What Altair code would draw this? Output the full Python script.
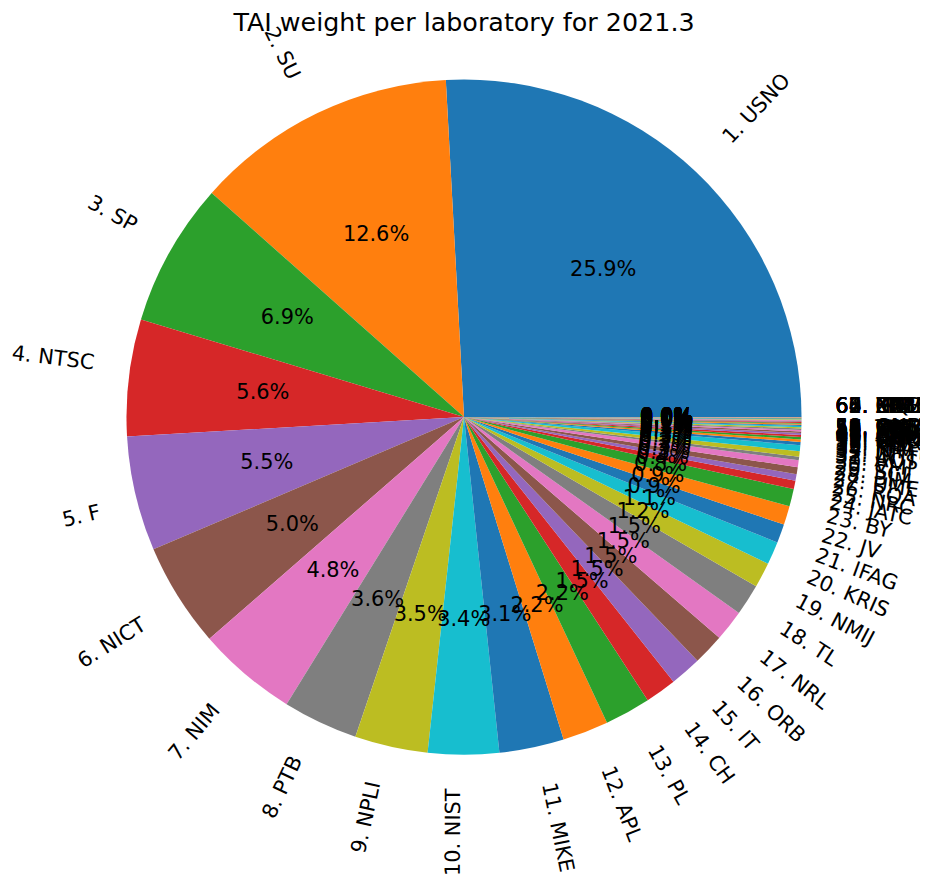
import math
import altair as alt
import pandas as pd

labs = ["USNO", "SU", "SP", "NTSC", "F", "NICT", "NIM", "PTB", "NPLI", "NIST",
        "MIKE", "APL", "PL", "CH", "IT", "ORB", "NRL", "TL", "NMIJ", "KRIS",
        "IFAG", "JV", "BY", "JATC", "NRC", "ROA", "UME", "BIM", "SCL", "VMI",
        "AOS", "INTI", "LT", "NIMT", "TP", "KIM", "MSL", "ONRJ", "SMU", "NAO",
        "DLR", "CNM", "BEV", "NPL", "HKO", "AUS", "ESTC", "IGNA", "KZ", "UA",
        "SG", "INCP", "DMDM", "SIQ", "MKEH", "TCC", "NIS", "GUM", "ONBA", "ZA",
        "CNMP", "IPQ", "INM", "NIMB", "EIM", "MASM", "KEBS", "NMLS"]

weights = [25.9, 12.6, 6.9, 5.6, 5.5, 5.0, 4.8, 3.6, 3.5, 3.4,
           3.1, 2.2, 2.2, 1.5, 1.5, 1.5, 1.5, 1.5, 1.2, 1.1,
           0.9, 0.9, 0.84, 0.40, 0.31, 0.34, 0.33, 0.17, 0.26, 0.29,
           0.15, 0.12, 0.11, 0.10, 0.09, 0.08, 0.07, 0.07, 0.06, 0.06,
           0.05, 0.05, 0.04, 0.04, 0.03, 0.03, 0.03, 0.02, 0.02, 0.02,
           0.02, 0.01, 0.01, 0.01, 0.01, 0.01, 0.005, 0.005, 0.005, 0.0,
           0.0, 0.0, 0.0, 0.0, 0.0, 0.0, 0.0, 0.0]

title_text = ["TAI weight per laboratory for 2021.3"]

tab10 = ["#1f77b4", "#ff7f0e", "#2ca02c", "#d62728", "#9467bd",
         "#8c564b", "#e377c2", "#7f7f7f", "#bcbd22", "#17becf"]

names = [f"{i + 1}. {l}" for i, l in enumerate(labs)]
colors = [tab10[i % 10] for i in range(len(names))]

df = pd.DataFrame({"idx": list(range(1, len(names) + 1)), "name": names, "w": weights})

FONT = "DejaVu Sans"
FS = 21
TH = 20.5  # text box height used for the rotated-bbox alignment
R = 339
W, H = 916, 738

theta_scale = alt.Scale(domain=[0, 1], range=[math.pi / 2, math.pi / 2 - 2 * math.pi])

base = (
    alt.Chart(df)
    .transform_joinaggregate(total="sum(w)")
    .transform_window(cum="sum(w)", sort=[alt.SortField("idx")], frame=[None, 0])
    .transform_calculate(
        start="(datum.cum - datum.w) / datum.total",
        end="datum.cum / datum.total",
        mid="(datum.cum - datum.w / 2) / datum.total",
    )
    .transform_calculate(
        deg="360 * datum.mid",
        right="cos(2 * PI * datum.mid) > 0",
        upper="sin(2 * PI * datum.mid) > 0 || datum.w == 0",
        pct="format(100 * datum.w / datum.total, '.1f') + '%'",
    )
    .transform_calculate(
        rot="(720 - (datum.right ? datum.deg : datum.deg + 180)) % 360"
    )
    .transform_calculate(
        shift=f"(datum.right ? 1 : -1) * {TH} * abs(sin(datum.rot * PI / 180))"
    )
    .transform_calculate(
        ldx="datum.shift * cos(datum.rot * PI / 180)",
        ldy="-datum.shift * sin(datum.rot * PI / 180)",
    )
)

arcs = base.mark_arc(outerRadius=R).encode(
    theta=alt.Theta("start:Q", stack=False, scale=theta_scale),
    theta2="end:Q",
    color=alt.Color("name:N", scale=alt.Scale(domain=names, range=colors), legend=None),
    order=alt.Order("idx:Q"),
)


def label_layer(filt, align, baseline):
    return base.transform_filter(filt).mark_text(
        radius=R * 1.1, align=align, baseline=baseline,
        fontSize=FS, font=FONT, color="black",
        dx=alt.expr("datum.ldx"), dy=alt.expr("datum.ldy"),
    ).encode(
        theta=alt.Theta("mid:Q", stack=False, scale=theta_scale),
        angle=alt.Angle("rot:Q", scale=None),
        text="name:N",
    )


lab_rt = label_layer("datum.right && datum.upper", "left", "bottom")
lab_rb = label_layer("datum.right && !datum.upper", "left", "top")
lab_lt = label_layer("!datum.right && datum.upper", "right", "bottom")
lab_lb = label_layer("!datum.right && !datum.upper", "right", "top")

pcts = base.mark_text(
    radius=R * 0.6, align="center", baseline="middle",
    fontSize=FS, font=FONT, color="black",
).encode(
    theta=alt.Theta("mid:Q", stack=False, scale=theta_scale),
    text="pct:N",
)

title = alt.Chart(pd.DataFrame({"t": title_text})).mark_text(
    align="center", baseline="alphabetic", fontSize=25.5, font=FONT, color="black",
).encode(
    text="t:N",
    x=alt.value(W / 2),
    y=alt.value(-19),
)

chart = (
    alt.layer(arcs, pcts, lab_rt, lab_rb, lab_lt, lab_lb, title)
    .properties(
        width=W,
        height=H,
        autosize=alt.AutoSizeParams(type="none"),
        padding={"left": 0, "top": 40, "right": 0, "bottom": 90},
    )
    .configure_view(stroke=None)
)

chart.save("out.html", embed_options={"renderer": "svg", "actions": False})
